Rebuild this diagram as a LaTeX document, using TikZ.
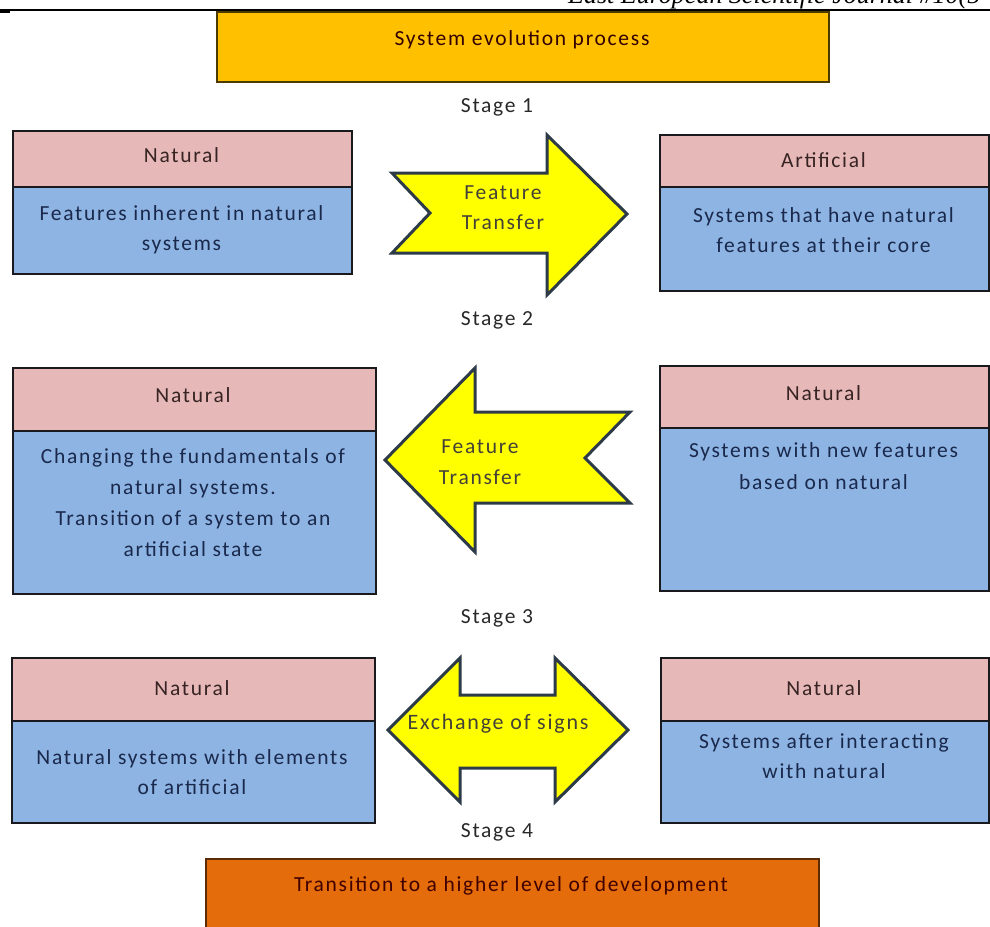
\documentclass[tikz,border=0pt]{standalone}
\usepackage{fontspec}
\setmainfont{Carlito}
\newfontfamily\boxfont[LetterSpace=8]{Carlito}
\newfontfamily\hdrfont{Liberation Serif}
\definecolor{pinkhd}{RGB}{230,185,184}
\definecolor{bluebd}{RGB}{142,180,227}
\definecolor{topor}{RGB}{255,192,0}
\definecolor{botor}{RGB}{228,108,10}
\definecolor{arrowyl}{RGB}{255,255,0}
\definecolor{arrowed}{RGB}{45,58,72}
\definecolor{edgec}{RGB}{25,25,30}
\definecolor{hdtext}{RGB}{55,35,35}
\definecolor{bdtext}{RGB}{25,40,75}
\definecolor{stagetext}{RGB}{40,40,40}
\begin{document}
\begin{tikzpicture}[x=1pt,y=-1pt,
  cell/.style={draw=edgec, line width=2pt, inner sep=0pt, anchor=north west},
  hdcell/.style={cell, fill=pinkhd},
  bdcell/.style={cell, fill=bluebd},
  txt/.style={font=\boxfont\fontsize{21.5}{30}\selectfont, align=center, inner sep=0pt},
  hdtxt/.style={txt, text=hdtext},
  bdtxt/.style={txt, text=bdtext},
  stagetxt/.style={txt, text=stagetext},
  blockarrow/.style={draw=arrowed, line width=3pt, fill=arrowyl, line join=miter}
]
\useasboundingbox (0,0) rectangle (990,926);
% page header
\node[font=\hdrfont\itshape\fontsize{26}{26}\selectfont, anchor=base west, inner sep=0pt] (jrnl) at (568,4) {East European Scientific Journal \#10(5};
\draw[line width=1.2pt] (0,10) -- (990,10);
\draw[line width=3pt] (0,11) -- (10,11);

% top box
\node[cell, fill=topor, draw=black!70!topor, minimum width=612pt, minimum height=70pt] (topbox) at (216,11) {};
\node[txt, text=black!80!red] (toptxt) at (522,40) {System evolution process};
\node[stagetxt] (st1) at (497,107) {Stage 1};

% row 1
\node[hdcell, minimum width=339pt, minimum height=56pt] (r1lh) at (12,130) {};
\node[bdcell, minimum width=339pt, minimum height=87pt] (r1lb) at (12,186) {};
\node[hdtxt] (r1lht) at (181.5,155) {Natural};
\node[bdtxt] (r1lbt) at (181.5,230) {Features inherent in natural\\systems};

\node[hdcell, minimum width=329pt, minimum height=52pt] (r1rh) at (659,134) {};
\node[bdcell, minimum width=329pt, minimum height=104pt] (r1rb) at (659,186) {};
\node[hdtxt] (r1rht) at (823.5,160) {Artificial};
\node[bdtxt] (r1rbt) at (823.5,230) {Systems that have natural\\features at their core};

\draw[blockarrow] (392,173) -- (547,173) -- (547,135) -- (627,214) -- (547,295) -- (547,253) -- (392,253) -- (430,213) -- cycle;
\node[bdtxt, text=black!85!yellow] (a1t) at (503,208) {Feature\\Transfer};

\node[stagetxt] (st2) at (497,320) {Stage 2};

% row 2
\node[hdcell, minimum width=363pt, minimum height=63pt] (r2lh) at (12,367) {};
\node[bdcell, minimum width=363pt, minimum height=163pt] (r2lb) at (12,430) {};
\node[hdtxt] (r2lht) at (193,395) {Natural};
\node[bdtxt, font=\boxfont\fontsize{21.5}{31}\selectfont] (r2lbt) at (193,503) {Changing the fundamentals of\\natural systems.\\Transition of a system to an\\artificial state};

\node[hdcell, minimum width=329pt, minimum height=62pt] (r2rh) at (659,365) {};
\node[bdcell, minimum width=329pt, minimum height=163pt] (r2rb) at (659,427) {};
\node[hdtxt] (r2rht) at (823.5,393) {Natural};
\node[bdtxt, font=\boxfont\fontsize{21.5}{32}\selectfont] (r2rbt) at (823.5,466) {Systems with new features\\based on natural};

\draw[blockarrow] (385,460) -- (475,368) -- (475,412) -- (630,412) -- (585,458) -- (630,503) -- (475,503) -- (475,552) -- cycle;
\node[bdtxt, text=black!85!yellow, font=\boxfont\fontsize{21.5}{31}\selectfont] (a2t) at (480,462) {Feature\\Transfer};

\node[stagetxt] (st3) at (497,618) {Stage 3};

% row 3
\node[hdcell, minimum width=363pt, minimum height=63pt] (r3lh) at (11,657) {};
\node[bdcell, minimum width=363pt, minimum height=102pt] (r3lb) at (11,720) {};
\node[hdtxt] (r3lht) at (192,688) {Natural};
\node[bdtxt] (r3lbt) at (192,772) {Natural systems with elements\\of artificial};

\node[hdcell, minimum width=328pt, minimum height=63pt] (r3rh) at (660,657) {};
\node[bdcell, minimum width=328pt, minimum height=102pt] (r3rb) at (660,720) {};
\node[hdtxt] (r3rht) at (824,688) {Natural};
\node[bdtxt] (r3rbt) at (824,756) {Systems after interacting\\with natural};

\draw[blockarrow] (388,730) -- (460,658) -- (460,695) -- (555,695) -- (555,658) -- (628,730) -- (555,802) -- (555,768) -- (460,768) -- (460,802) -- cycle;
\node[bdtxt, text=black!85!yellow, font=\boxfont\fontsize{22}{30}\selectfont] (a3t) at (498,724) {Exchange of signs};

\node[stagetxt] (st4) at (497,832) {Stage 4};

% bottom box
\node[cell, fill=botor, draw=black!60!botor, minimum width=613pt, minimum height=90pt] (botbox) at (205,858) {};
\node[txt, text=black!75!red] (bottxt) at (511,886) {Transition to a higher level of development};
\end{tikzpicture}
\end{document}
